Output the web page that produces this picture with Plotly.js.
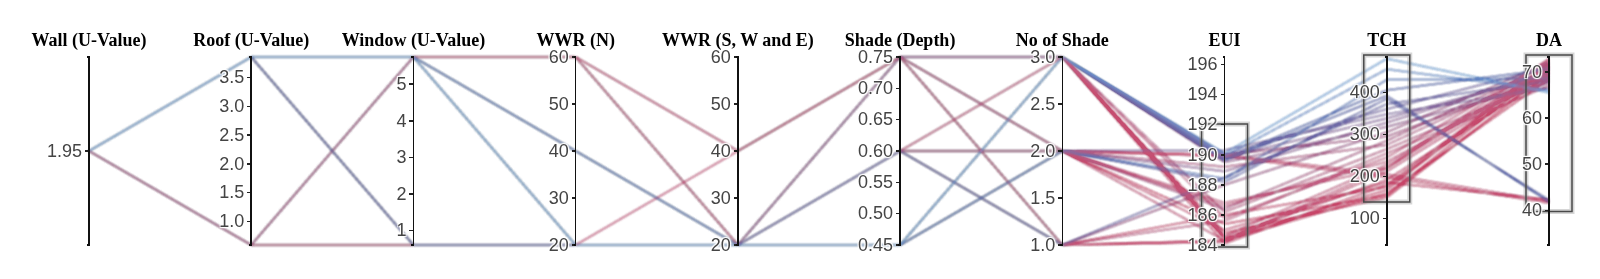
<!DOCTYPE html>
<html>
<head>
<meta charset="utf-8">
<script src="https://cdn.plot.ly/plotly-3.0.1.min.js"></script>
<style>
html,body{margin:0;padding:0;background:#fff;}
#chart{width:1600px;height:279px;}
.parcoords .axis-title{transform:translateY(-9px);}
.parcoords .axis .domain{stroke:#111 !important;stroke-width:1.6px !important;stroke-opacity:1 !important;}
.parcoords .axis .tick line{stroke:#222 !important;stroke-opacity:1 !important;stroke-width:1.5px !important;}
.gl-canvas-focus,.gl-canvas-context{filter:url(#soften);}
</style>
</head>
<body>
<svg width="0" height="0" style="position:absolute">
  <filter id="soften" x="0" y="0" width="100%" height="100%" color-interpolation-filters="sRGB">
    <feGaussianBlur stdDeviation="0.85"/>
    <feComponentTransfer><feFuncA type="linear" slope="2.6"/></feComponentTransfer>
  </filter>
</svg>
<div id="chart"></div>
<script>
// Axis names
const dimNames = ['Wall (U-Value)','Roof (U-Value)','Window (U-Value)','WWR (N)','WWR (S, W and E)','Shade (Depth)','No of Shade','EUI','TCH','DA'];

// Series values (one entry per solution line)
const wall   = [1.95,1.95,1.95,1.95,1.95,1.95,1.95,1.95,1.95,1.95,1.95,1.95,1.95,1.95,1.95,1.95,1.95,1.95,1.95,1.95,1.95,1.95,1.95,1.95,1.95,1.95,1.95,1.95,1.95,1.95,1.95,1.95,1.95,1.95];
const roof   = [3.86,3.86,3.86,3.86,3.86,3.86,3.86,3.86,3.86,3.86,3.86,3.86,3.86,0.59,0.59,3.86,0.59,0.59,0.59,0.59,0.59,0.59,0.59,0.59,0.59,0.59,0.59,0.59,0.59,0.59,0.59,0.59,0.59,0.59];
const windowU= [5.74,5.74,5.74,5.74,5.74,0.61,5.74,5.74,0.61,5.74,5.74,5.74,0.61,5.74,5.74,5.74,0.61,5.74,5.74,0.61,5.74,5.74,0.61,5.74,0.61,5.74,0.61,5.74,0.61,5.74,0.61,5.74,0.61,5.74];
const wwrN   = [20,20,40,40,20,20,40,20,20,40,20,40,20,20,40,20,20,40,60,20,60,60,20,60,20,60,20,60,20,60,20,60,20,60];
const wwrS   = [20,20,20,20,20,20,20,20,20,20,20,20,20,20,20,20,20,20,20,20,20,40,40,20,20,20,20,20,20,40,20,20,20,20];
const shade  = [0.45,0.45,0.45,0.45,0.45,0.45,0.60,0.45,0.45,0.45,0.45,0.75,0.60,0.45,0.60,0.75,0.75,0.75,0.60,0.60,0.75,0.75,0.75,0.75,0.60,0.75,0.75,0.60,0.75,0.75,0.60,0.75,0.75,0.60];
const nShade = [3,3,2,3,3,2,1,3,2,3,2,3,1,3,2,2,3,1,3,2,3,2,1,2,2,3,2,3,1,3,1,2,3,2];
const eui    = [190.1,189.9,188.4,189.7,189.6,188.2,188.5,190.0,190.3,189.8,188.9,189.5,188.0,190.0,186.4,189.2,186.2,185.6,185.8,186.6,184.6,184.3,184.2,190.0,189.9,184.5,185.0,184.1,186.0,184.4,184.3,185.4,184.8,186.8];
const tch    = [480,455,430,405,392,385,372,360,348,338,328,318,305,295,285,275,265,255,245,235,228,220,212,205,198,192,186,180,175,168,160,155,150,220];
const da     = [65.5,66.0,68.5,70.5,41.8,42.2,68.0,71.0,66.5,69.5,70.0,67.5,72.0,69.0,71.5,70.5,68.0,67.0,72.5,69.5,71.0,72.8,70.0,42.0,41.6,69.0,42.3,71.5,70.5,72.0,68.5,71.2,69.8,70.8];

// Axis ranges and tick labels
const ranges = [[1.9,2.0],[0.59,3.86],[0.61,5.74],[20,60],[20,60],[0.45,0.75],[1,3],[184,196.5],[37,484],[32.5,73.2]];
const tickVals = [
  [1.95],
  [1.0,1.5,2.0,2.5,3.0,3.5],
  [1,2,3,4,5],
  [20,30,40,50,60],
  [20,30,40,50,60],
  [0.45,0.50,0.55,0.60,0.65,0.70,0.75],
  [1.0,1.5,2.0,2.5,3.0],
  [184,186,188,190,192,194,196],
  [100,200,300,400],
  [40,50,60,70]
];
const tickText = [
  ['1.95'],
  ['1.0','1.5','2.0','2.5','3.0','3.5'],
  ['1','2','3','4','5'],
  ['20','30','40','50','60'],
  ['20','30','40','50','60'],
  ['0.45','0.50','0.55','0.60','0.65','0.70','0.75'],
  ['1.0','1.5','2.0','2.5','3.0'],
  ['184','186','188','190','192','194','196'],
  ['100','200','300','400'],
  ['40','50','60','70']
];
// Brushed (selected) ranges on the output axes
const brushes = [null,null,null,null,null,null,null,[184,192],[142,484],[40,73.2]];

const series = [wall,roof,windowU,wwrN,wwrS,shade,nShade,eui,tch,da];

// add the axis ends as blank ticks so the axis line spans the full range
const dimensions = series.map((vals,i)=>{
  const tv = tickVals[i].slice(), tt = tickText[i].slice();
  const [lo,hi] = ranges[i];
  if (!tv.some(v=>Math.abs(v-lo)<1e-9)) { tv.unshift(lo); tt.unshift(''); }
  if (!tv.some(v=>Math.abs(v-hi)<1e-9)) { tv.push(hi); tt.push(''); }
  return {label: dimNames[i], values: vals, range: ranges[i], tickvals: tv, ticktext: tt};
});

const trace = {
  type: 'parcoords',
  dimensions: dimensions,
  line: {
    color: tch,
    cmin: 150, cmax: 480,
    colorscale: [
      [0.0,'rgba(200,65,100,0.42)'],
      [0.3,'rgba(195,100,135,0.4)'],
      [0.45,'rgba(160,85,130,0.45)'],
      [0.6,'rgba(130,110,165,0.42)'],
      [0.75,'rgba(85,100,170,0.5)'],
      [1.0,'rgba(115,165,220,0.55)']
    ],
    showscale: false
  },
  labelfont: {family: 'Liberation Serif', size: 18, color: '#000', weight: 'bold'},
  tickfont: {family: 'Liberation Sans', size: 18, color: '#444'},
  rangefont: {family: 'Liberation Sans', size: 1, color: 'rgba(0,0,0,0)'}
};

// brush boxes, placed from the brush ranges through each axis' range
const nDim = dimNames.length;
const halfW = 23 / (1600 - 89 - 51);
const shapes = [];
brushes.forEach((b,i)=>{
  if (!b) return;
  const [lo,hi] = ranges[i];
  const y0 = (b[0]-lo)/(hi-lo), y1 = (b[1]-lo)/(hi-lo);
  const xc = i/(nDim-1);
  shapes.push({type:'rect', xref:'paper', yref:'paper', x0:xc-halfW, x1:xc+halfW, y0:y0, y1:y1,
    line:{color:'rgba(120,120,120,0.3)', width:5}, fillcolor:'rgba(0,0,0,0)', layer:'above'});
  shapes.push({type:'rect', xref:'paper', yref:'paper', x0:xc-halfW, x1:xc+halfW, y0:y0, y1:y1,
    line:{color:'#4a4a4a', width:1.5}, fillcolor:'rgba(0,0,0,0)', layer:'above'});
});

const layout = {
  width: 1600, height: 279,
  margin: {l: 89, r: 51, t: 55, b: 32},
  paper_bgcolor: '#fff', plot_bgcolor: '#fff',
  shapes: shapes
};

Plotly.newPlot('chart', [trace], layout, {displayModeBar: false}).then(()=>{
  // hide the blank end ticks
  document.querySelectorAll('.parcoords .axis .tick').forEach(t=>{
    if (t.textContent.trim()==='') { const l = t.querySelector('line'); if (l) l.style.display='none'; }
  });
});
</script>
</body>
</html>
